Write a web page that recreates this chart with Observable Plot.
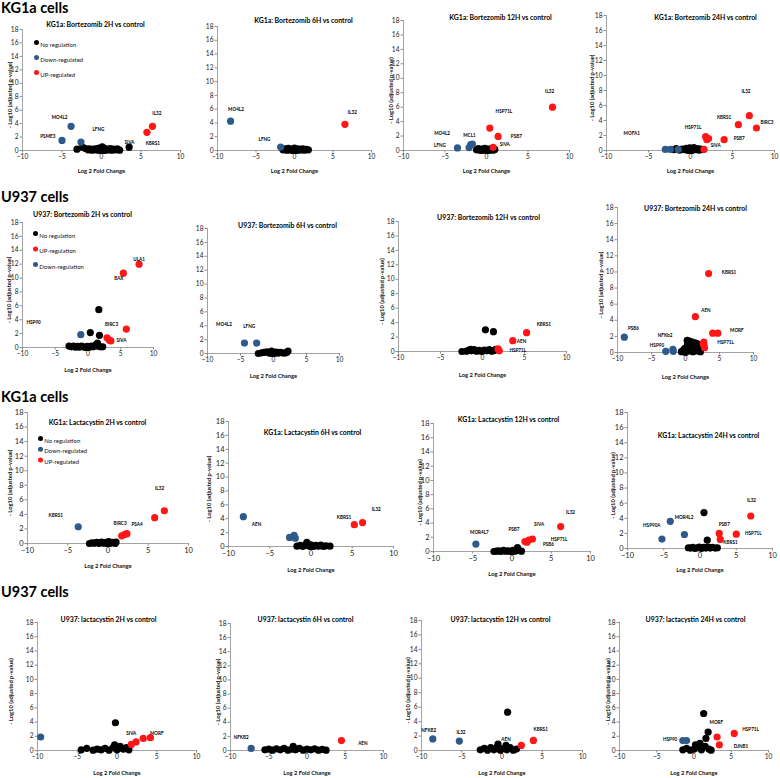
<!DOCTYPE html>
<html><head><meta charset="utf-8">
<script src="https://cdn.jsdelivr.net/npm/d3@7"></script>
<script src="https://cdn.jsdelivr.net/npm/@observablehq/plot@0.6"></script>
<style>
body{margin:0;background:#fff;font-family:Lato,"Open Sans",sans-serif;}
#root{position:relative;width:780px;height:778px;overflow:hidden;background:#fff;}
.hdr{position:absolute;font-weight:bold;font-size:14.5px;line-height:16px;color:#000;white-space:nowrap;}
</style></head><body><div id="root"></div>
<script>
// ---------- shared tick labels ----------
const X_TICKS = [-10, -5, 0, 5, 10];
const Y_TICKS = [0, 2, 4, 6, 8, 10, 12, 14, 16, 18];
const X_LABEL = "Log 2 Fold Change";
const Y_LABEL = "- Log10 (adjusted p-value)";
const SECTION_HEADERS = ["KG1a cells", "U937 cells", "KG1a cells", "U937 cells"];
const LEGEND_A = [["No regulation", "n"], ["Down-regulated", "d"], ["UP-regulated", "u"]];
const LEGEND_B = [["No regulation", "n"], ["UP-regulation", "u"], ["Down-regulation", "d"]];

const TITLES = [
  "KG1a: Bortezomib 2H vs control", "KG1a: Bortezomib 6H vs control", "KG1a: Bortezomib 12H vs control", "KG1a: Bortezomib 24H vs control",
  "U937: Bortezomib 2H vs control", "U937: Bortezomib 6H vs control", "U937: Bortezomib 12H vs control", "U937: Bortezomib 24H vs control",
  "KG1a: Lactacystin 2H vs control", "KG1a: Lactacystin 6H vs control", "KG1a: Lactacystin 12H vs control", "KG1a: Lactacystin 24H vs control",
  "U937: lactacystin 2H vs control", "U937: lactacystin 6H vs control", "U937: lactacystin 12H vs control", "U937: lactacystin 24H vs control"
];

// ---------- data: [log2 fold change, -log10 adj p, class n/d/u] ----------
const kgB2 = [
  [-5.0,1.5,"d"],[-3.85,3.6,"d"],[-2.6,1.25,"d"],
  [5.75,2.7,"u"],[6.45,3.6,"u"],
  [-3.1,0.2,"n"],[-2.4,0.5,"n"],[-2.0,0.3,"n"],[-1.7,0.1,"n"],[-1.5,0.25,"n"],[-1.2,0.05,"n"],[-1.0,0.2,"n"],[-0.8,0.1,"n"],
  [-0.6,0.3,"n"],[-0.4,0.05,"n"],[-0.2,0.2,"n"],[0,0,"n"],[0.1,0.55,"n"],[0.2,0.1,"n"],[0.4,0.3,"n"],[0.5,0.05,"n"],
  [0.7,0.2,"n"],[0.9,0.1,"n"],[1.1,0.3,"n"],[1.3,0.05,"n"],[1.5,0.2,"n"],[1.8,0.1,"n"],[2.0,0.25,"n"],[2.3,0.05,"n"],[3.5,0.5,"n"],
  [-0.1,0.05,"n"],[0.3,0,"n"],[-0.3,0.35,"n"]
];
const kgB6 = [
  [-8.3,4.25,"d"],[-1.8,0.5,"d"],
  [6.55,3.8,"u"],
  [-1.5,0.1,"n"],[-1.2,0.25,"n"],[-1.0,0.05,"n"],[-0.8,0.3,"n"],[-0.6,0.1,"n"],[-0.4,0.2,"n"],[-0.2,0,"n"],[-0.1,0.15,"n"],
  [0,0.35,"n"],[0.1,0.1,"n"],[0.3,0.25,"n"],[0.5,0.05,"n"],[0.7,0.2,"n"],[0.9,0.1,"n"],[1.1,0.25,"n"],[1.3,0.05,"n"],[1.5,0.15,"n"],[1.8,0.1,"n"],
  [-0.3,0.05,"n"],[0.2,0,"n"]
];
const kgB12 = [
  [-3.5,0.35,"d"],[-2.1,0.4,"d"],[-1.9,0.8,"d"],[-1.7,0.9,"d"],
  [0.4,3.1,"u"],[1.4,1.95,"u"],[0.8,0.45,"u"],[7.95,6.0,"u"],
  [-1.2,0.1,"n"],[-1.0,0.25,"n"],[-0.8,0.05,"n"],[-0.6,0.2,"n"],[-0.5,0,"n"],[-0.4,0.1,"n"],[-0.2,0.3,"n"],[0,0.05,"n"],
  [0.2,0.2,"n"],[0.3,0,"n"],[0.4,0.1,"n"],[0.6,0.25,"n"],[0.8,0.05,"n"],[1.0,0.15,"n"],[-0.1,0.15,"n"],[0.1,0,"n"]
];
const kgB24 = [
  [-3.0,0.15,"d"],[-2.4,0.15,"d"],[-1.45,0.15,"d"],
  [1.8,1.85,"u"],[2.15,1.6,"u"],[1.95,1.45,"u"],[1.6,0.15,"u"],[4.0,1.45,"u"],[5.7,3.45,"u"],[7.0,4.65,"u"],[7.85,3.0,"u"],
  [-2.0,0.1,"n"],[-1.7,0.25,"n"],[-1.3,0.05,"n"],[-1.0,0.2,"n"],[-0.7,0.1,"n"],[-0.5,0.3,"n"],[-0.3,0,"n"],[-0.1,0.35,"n"],
  [0,0.15,"n"],[0.2,0.05,"n"],[0.3,0.25,"n"],[0.4,0.4,"n"],[0.6,0.1,"n"],[0.8,0.25,"n"],[1.0,0.05,"n"],[1.2,0.2,"n"],[1.4,0.1,"n"],
  [-0.2,0.05,"n"],[0.1,0,"n"]
];
const u9B2 = [
  [-1.1,1.85,"d"],
  [2.9,1.4,"u"],[3.25,1.05,"u"],[3.5,0.95,"u"],[5.85,2.65,"u"],[5.4,10.7,"u"],[7.8,12.0,"u"],
  [1.65,5.45,"n"],[0.35,2.15,"n"],[1.75,1.75,"n"],[1.45,0.65,"n"],[-2.9,0.2,"n"],[-2.5,0.1,"n"],[-2.2,0.2,"n"],[-1.9,0.05,"n"],
  [-1.6,0.15,"n"],[-1.3,0.05,"n"],[-1.0,0.2,"n"],[-0.7,0.1,"n"],[-0.4,0,"n"],[-0.1,0.15,"n"],[0.2,0.05,"n"],[0.5,0.2,"n"],
  [0.8,0.1,"n"],[1.1,0.3,"n"],[1.3,0.45,"n"],[1.5,0.2,"n"],[1.9,0.1,"n"],[2.25,0.1,"n"],[0,0,"n"],[-0.2,0.05,"n"]
];
const u9B6 = [
  [-4.4,1.5,"d"],[-2.55,1.5,"d"],
  [-2.3,0,"n"],[-1.8,0.1,"n"],[-1.4,0.15,"n"],[-1.0,0.25,"n"],[-0.6,0.05,"n"],[-0.3,0.35,"n"],[-0.1,0.2,"n"],[0,0.1,"n"],
  [0.1,0,"n"],[0.4,0.2,"n"],[0.7,0.05,"n"],[1.0,0.15,"n"],[1.3,0.1,"n"],[1.7,0.05,"n"],[2.0,0.15,"n"],[2.2,0.35,"n"],[-0.2,-0,"n"]
];
const u9B12 = [
  [5.25,2.6,"u"],[3.6,1.5,"u"],[1.85,0.35,"u"],[2.0,0.1,"u"],
  [0.35,3.0,"n"],[1.3,2.75,"n"],[-2.45,0,"n"],[-1.9,0.05,"n"],[-1.6,0.2,"n"],[-1.4,0.3,"n"],[-1.3,0.1,"n"],[-1.0,0.25,"n"],
  [-0.7,0.05,"n"],[-0.4,0.15,"n"],[-0.1,0,"n"],[0.2,0.2,"n"],[0.5,0.1,"n"],[0.8,0.25,"n"],[1.1,0.05,"n"],[1.4,0.15,"n"],[1.6,0.3,"n"]
];
const u9B24 = [
  [-9.0,1.9,"d"],[-2.9,0.15,"d"],[-1.85,0.4,"d"],[-1.8,0.15,"d"],
  [3.4,9.8,"u"],[1.45,4.45,"u"],[4.0,2.4,"u"],[4.75,2.4,"u"],[2.7,1.3,"u"],[2.7,0.95,"u"],[2.8,0.6,"u"],[2.6,1.1,"u"],
  [0.25,1.5,"n"],[0.6,1.4,"n"],[1.0,1.3,"n"],[1.4,1.2,"n"],[1.7,1.1,"n"],[0.3,1.0,"n"],[0.9,0.9,"n"],[-0.6,0.1,"n"],
  [-0.3,0.3,"n"],[-0.1,0.5,"n"],[0,0,"n"],[0.2,0.6,"n"],[0.4,0.75,"n"],[0.5,0.2,"n"],[0.8,0.5,"n"],[1.1,0.1,"n"],[1.2,0.7,"n"],
  [1.4,0.4,"n"],[1.7,0.2,"n"],[2.0,0.6,"n"],[2.2,0.1,"n"]
];
const kgL2 = [
  [-3.7,2.3,"d"],
  [1.7,1.05,"u"],[2.1,1.25,"u"],[2.35,1.35,"u"],[5.8,3.55,"u"],[7.0,4.5,"u"],
  [-2.3,0,"n"],[-2.0,0.1,"n"],[-1.7,0.05,"n"],[-1.4,0.15,"n"],[-1.1,0,"n"],[-0.8,0.2,"n"],[-0.5,0.05,"n"],[-0.2,0.15,"n"],
  [0,0,"n"],[0.1,0.25,"n"],[0.3,0.05,"n"],[0.6,0.15,"n"],[0.9,0,"n"],[1.0,0.2,"n"],[-0.1,0.05,"n"]
];
const kgL6 = [
  [-8.2,4.3,"d"],[-2.6,1.3,"d"],[-2.05,1.6,"d"],[-1.9,1.2,"d"],
  [5.25,3.15,"u"],[6.25,3.45,"u"],
  [-1.7,0.05,"n"],[-1.3,0.15,"n"],[-1.0,0,"n"],[-0.7,0.2,"n"],[-0.5,0.6,"n"],[-0.3,0.1,"n"],[0,0.25,"n"],[0.2,0.1,"n"],
  [0.3,0,"n"],[0.6,0.15,"n"],[0.9,0.05,"n"],[1.2,0.2,"n"],[1.5,0,"n"],[1.8,0.1,"n"],[2.3,0.05,"n"],[-0.1,0,"n"]
];
const kgL12 = [
  [-4.6,1.05,"d"],
  [1.65,1.4,"u"],[1.9,1.3,"u"],[2.15,1.6,"u"],[2.6,1.75,"u"],[6.2,3.5,"u"],
  [-2.3,0,"n"],[-2.0,0.05,"n"],[-1.7,0.1,"n"],[-1.4,0,"n"],[-1.1,0.15,"n"],[-0.8,0.05,"n"],[-0.5,0.1,"n"],[-0.2,0,"n"],
  [0.1,0.15,"n"],[0.4,0.05,"n"],[0.7,0.55,"n"],[0.8,0.2,"n"],[1.2,0.05,"n"],[0,0,"n"]
];
const kgL24 = [
  [-5.25,1.25,"d"],[-4.1,3.6,"d"],[-2.15,1.85,"d"],
  [2.65,2.0,"u"],[2.8,1.2,"u"],[5.0,1.9,"u"],[7.0,4.3,"u"],
  [0.55,4.75,"n"],[1.0,1.1,"n"],[-1.6,0.1,"n"],[-1.3,0.05,"n"],[-1.0,0.15,"n"],[-0.7,0,"n"],[-0.4,0.1,"n"],[-0.1,0.2,"n"],
  [0.2,0,"n"],[0.5,0.15,"n"],[0.8,0.05,"n"],[1.1,0.2,"n"],[1.4,0.05,"n"],[1.7,0.15,"n"],[2.1,0.05,"n"],[2.4,0.1,"n"]
];
const u9L2 = [
  [-9.6,1.9,"d"],
  [1.8,0.85,"u"],[2.4,1.2,"u"],[3.3,1.7,"u"],[4.2,1.8,"u"],
  [-0.2,3.9,"n"],[-4.5,0.1,"n"],[-3.8,0.3,"n"],[-3.0,0.05,"n"],[-2.5,0.2,"n"],[-2.0,0.1,"n"],[-1.5,0.3,"n"],[-1.0,0.05,"n"],
  [-0.5,0.4,"n"],[-0.3,0.8,"n"],[0,0.1,"n"],[0.2,0.3,"n"],[0.4,0.6,"n"],[0.8,0.2,"n"],[1.2,0.4,"n"],[1.5,0.1,"n"]
];
const u9L6 = [
  [-7.3,0.3,"d"],
  [4.5,1.4,"u"],
  [-5.5,0.1,"n"],[-5.0,0.2,"n"],[-4.5,0.05,"n"],[-4.0,0.25,"n"],[-3.5,0.1,"n"],[-3.0,0.3,"n"],[-2.5,0.05,"n"],[-2.0,0.2,"n"],
  [-1.8,0.6,"n"],[-1.5,0.1,"n"],[-1.0,0.3,"n"],[-0.5,0.05,"n"],[0,0.2,"n"],[0.5,0.1,"n"],[1.0,0.25,"n"],[1.5,0.05,"n"],[2.0,0.15,"n"],[2.5,0.05,"n"]
];
const u9L12 = [
  [-8.6,1.6,"d"],[-5.3,1.3,"d"],
  [2.4,0.7,"u"],[3.9,1.4,"u"],
  [0.7,5.3,"n"],[-2.7,0.1,"n"],[-2.2,0.3,"n"],[-1.8,0.05,"n"],[-1.4,0.4,"n"],[-1.0,0.1,"n"],[-0.6,0.5,"n"],[-0.5,0.9,"n"],
  [-0.2,0.05,"n"],[0.2,0.3,"n"],[0.5,0.7,"n"],[0.6,0.1,"n"],[1.0,0.4,"n"],[1.4,0.05,"n"],[1.8,0.2,"n"]
];
const u9L24 = [
  [-1.5,1.4,"d"],[-1.0,1.4,"d"],
  [3.1,1.9,"u"],[5.4,2.4,"u"],[3.4,0.8,"u"],
  [1.3,5.2,"n"],[1.9,2.6,"n"],[1.6,1.7,"n"],[-1.5,0.1,"n"],[-1.0,0.3,"n"],[-0.5,0.05,"n"],[0,0.2,"n"],[0.2,0.8,"n"],
  [0.5,0.4,"n"],[0.8,1.0,"n"],[1.0,0.1,"n"],[1.5,0.6,"n"],[2.0,0.2,"n"],[2.3,0.05,"n"]
];

// ---------- gene labels: [text, x, y] in data units ----------
const kgB2_lab = [["MO4L2",-5.3,4.85],["PSME3",-6.8,2.1],["LFNG",-0.4,3.1],["SIVA",3.55,1.25],["KBRS1",6.5,1.1],["IL32",7.0,5.55]];
const kgB6_lab = [["MO4L2",-7.6,6.0],["LFNG",-3.9,1.55],["IL32",7.5,5.55]];
const kgB12_lab = [["IL32",7.6,8.2],["HSP71L",2.1,5.4],["MO4L2",-5.35,2.3],["MCL1",-2.05,2.1],["PSB7",3.6,2.0],["LFNG",-5.6,0.7],["SIVA",2.2,0.85]];
const kgB24_lab = [["MOFA1",-7.0,2.3],["HSP71L",0.3,3.0],["KBRS1",4.0,4.35],["IL32",6.6,7.9],["BIRC3",9.1,3.7],["PSB7",5.8,1.65],["SIVA",3.0,0.6]];
const u9B2_lab = [["ULA1",7.8,12.65],["BAX",4.7,10.0],["BIRC3",3.6,3.25],["HSP90",-8.3,3.65],["SIVA",5.1,1.0]];
const u9B6_lab = [["MO4L2",-7.5,4.2],["LFNG",-3.7,3.95]];
const u9B12_lab = [["KBRS1",7.3,3.75],["AEN",4.65,1.45],["HSP71L",4.2,0.1]];
const u9B24_lab = [["KBRS1",6.4,9.9],["AEN",3.0,5.15],["PSB6",-7.65,2.95],["NFKb2",-3.0,2.1],["HSP90",-4.2,0.85],["MORF",7.55,2.75],["HSP71L",5.9,1.2]];
const kgL2_lab = [["IL32",6.4,7.55],["KBRS1",-6.5,3.8],["BIRC3",1.5,2.8],["PSA4",3.6,2.65]];
const kgL6_lab = [["AEN",-6.6,3.15],["KBRS1",4.0,4.2],["IL32",7.9,5.3]];
const kgL12_lab = [["IL32",7.45,5.5],["SIVA",3.45,3.85],["PSB7",0.25,3.05],["MOR4L7",-4.15,2.6],["HSP71L",6.0,1.65],["PSB6",4.65,0.95]];
const kgL24_lab = [["IL32",7.1,6.35],["MOR4L2",-2.2,4.15],["HSP90A",-6.65,3.0],["PSB7",3.35,3.2],["HSP71L",7.35,1.95],["KBRS1",4.2,0.75]];
const u9L2_lab = [["SIVA",1.8,2.4],["MORF",5.0,2.4]];
const u9L6_lab = [["NFKB2",-8.6,1.8],["AEN",7.3,1.0]];
const u9L12_lab = [["NFKB2",-9.1,2.8],["IL32",-5.1,2.5],["AEN",0.5,1.5],["KBRS1",4.8,2.9]];
const u9L24_lab = [["MORF",3.0,4.0],["HSP71L",7.6,3.0],["HSP90",-3.2,1.5],["DJNB1",6.3,0.6]];

const SERIES = [kgB2,kgB6,kgB12,kgB24,u9B2,u9B6,u9B12,u9B24,kgL2,kgL6,kgL12,kgL24,u9L2,u9L6,u9L12,u9L24];
const LABELS = [kgB2_lab,kgB6_lab,kgB12_lab,kgB24_lab,u9B2_lab,u9B6_lab,u9B12_lab,u9B24_lab,kgL2_lab,kgL6_lab,kgL12_lab,kgL24_lab,u9L2_lab,u9L6_lab,u9L12_lab,u9L24_lab];

// ---------- layout (page pixels) ----------
const LAYOUT = [
  {frame:[22,29,180,150],  title:[95,22],  xlab:168, ylab:7},
  {frame:[217,26,371,150], title:[303,18], xlab:168, ylab:null},
  {frame:[403,20,569,150], title:[500,15], xlab:168, ylab:388},
  {frame:[606,15,774,150], title:[705,15], xlab:168, ylab:589},
  {frame:[22,222,153,347], title:[82,212], xlab:367, ylab:6},
  {frame:[207,228,339,353],title:[287,223],xlab:373, ylab:null},
  {frame:[398,221,566,351],title:[488,215],xlab:372, ylab:379},
  {frame:[617,207,753,352],title:[695,206],xlab:374, ylab:598},
  {frame:[27,412,188,543], title:[97,420], xlab:563, ylab:7, big:true},
  {frame:[228,421,393,546],title:[312,430],xlab:567, ylab:206, big:true},
  {frame:[433,423,590,551],title:[508,417],xlab:571, ylab:417, big:true},
  {frame:[627,412,772,548],title:[708,433],xlab:567, ylab:610, big:true},
  {frame:[37,622,196,750], title:[108,617],xlab:770, ylab:8},
  {frame:[230,623,383,750],title:[305,617],xlab:770, ylab:215},
  {frame:[421,620,582,750],title:[500,617],xlab:770, ylab:405},
  {frame:[619,622,768,750],title:[695,617],xlab:770, ylab:605}
];
Object.assign(LAYOUT[0], {legend: LEGEND_A, legendAt: [36,42], legendGap: 15});
Object.assign(LAYOUT[4], {legend: LEGEND_B, legendAt: [35,233], legendGap: 15.5});
Object.assign(LAYOUT[8], {legend: LEGEND_A, legendAt: [40,438], legendGap: 10.7});
const HEADER_POS = [[1,8],[1,197],[1,397],[1,592]];

const COLORS = {n:"#000000", d:"#2d5a8b", u:"#ff1616"};
const AXIS = "#8c8c8c";
const FONT = "Lato, 'Open Sans', sans-serif";

const root = document.getElementById("root");

HEADER_POS.forEach(([x, y], i) => {
  const d = document.createElement("div");
  d.className = "hdr";
  d.textContent = SECTION_HEADERS[i];
  d.style.left = x + "px";
  d.style.top = (y - 8) + "px";
  root.appendChild(d);
});

function panel(i) {
  const L = LAYOUT[i];
  const [x0, yt, x1, yb] = L.frame;
  const ml = 30, mr = 6, mt = 6, mb = 30;
  const W = x1 - x0 + ml + mr, H = yb - yt + mt + mb;
  const fx = ax => ax - x0, fy = ay => ay - yt;
  const data = SERIES[i];
  const tickFs = L.big ? 7.5 : 6.6;
  const marks = [
    Plot.ruleX([-10], {stroke: AXIS, strokeWidth: 0.8}),
    Plot.ruleY([0], {stroke: AXIS, strokeWidth: 0.8}),
    Plot.axisX({ticks: X_TICKS, tickSize: 2.5, tickPadding: 1.5, fontSize: tickFs, stroke: AXIS, fill: "#222", label: null}),
    Plot.axisY({ticks: Y_TICKS, tickSize: 2.5, tickPadding: 1.5, fontSize: tickFs, stroke: AXIS, fill: "#222", label: null}),
    Plot.text([TITLES[i]], {frameAnchor: "top-left", dx: fx(L.title[0]), dy: fy(L.title[1]), text: d => d,
      fontSize: 6.9, fontWeight: "bold", textAnchor: "middle", fill: "#000"}),
    Plot.text([X_LABEL], {frameAnchor: "top-left", dx: (x1 - x0) / 2, dy: fy(L.xlab), text: d => d,
      fontSize: 5.8, fontWeight: "bold", textAnchor: "middle", fill: "#111"})
  ];
  if (L.ylab != null) {
    marks.push(Plot.text([Y_LABEL], {frameAnchor: "top-left", dx: fx(L.ylab), dy: (yb - yt) / 2 + 5, text: d => d,
      rotate: -90, fontSize: 5.8, fontWeight: "bold", textAnchor: "middle", fill: "#111"}));
  }
  for (const cls of ["n", "d", "u"]) {
    marks.push(Plot.dot(data.filter(d => d[2] === cls), {x: d => d[0], y: d => d[1], r: 3.6, fill: COLORS[cls], stroke: "none"}));
  }
  marks.push(Plot.text(LABELS[i], {x: d => d[1], y: d => d[2], text: d => d[0], fontSize: 4.6, fontWeight: "bold", fill: "#000"}));
  if (L.legend) {
    L.legend.forEach(([lab, cls], k) => {
      marks.push(Plot.dot([lab], {frameAnchor: "top-left", dx: fx(L.legendAt[0]), dy: fy(L.legendAt[1] + k * L.legendGap), r: 2.5, fill: COLORS[cls]}));
      marks.push(Plot.text([lab], {frameAnchor: "top-left", dx: fx(L.legendAt[0]) + 3.8, dy: fy(L.legendAt[1] + k * L.legendGap), text: d => d,
        fontSize: 6, textAnchor: "start", fill: "#111"}));
    });
  }
  const svg = Plot.plot({
    width: W, height: H, marginLeft: ml, marginRight: mr, marginTop: mt, marginBottom: mb,
    style: {background: "transparent", fontFamily: FONT, overflow: "visible"},
    x: {domain: [-10, 10]},
    y: {domain: [0, 18]},
    marks
  });
  svg.style.position = "absolute";
  svg.style.left = (x0 - ml) + "px";
  svg.style.top = (yt - mt) + "px";
  svg.style.maxWidth = "none";
  root.appendChild(svg);
}
for (let i = 0; i < 16; i++) panel(i);
</script></body></html>
